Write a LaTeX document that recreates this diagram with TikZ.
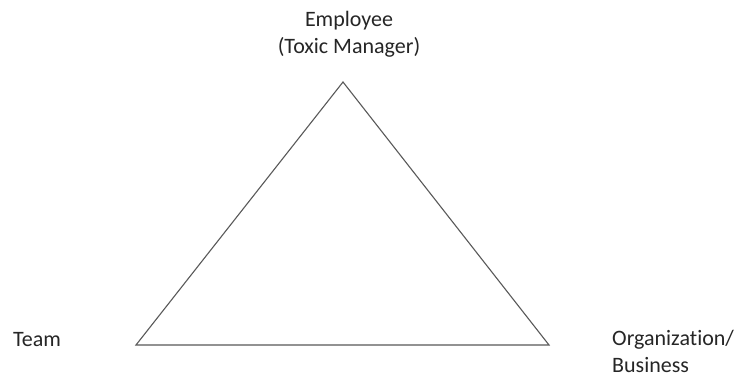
\documentclass[tikz,border=0pt]{standalone}
\usepackage{fontspec}
\setmainfont[Ligatures=NoCommon]{Carlito}
\definecolor{txt}{HTML}{262626}
\definecolor{edge}{HTML}{595959}
\begin{document}
\begin{tikzpicture}[x=1pt,y=-1pt,
  lbl/.style={text=txt,font=\fontsize{22}{27.5}\selectfont,inner sep=0pt},
  tri/.style={draw=edge,line width=1.1pt,line join=miter}]
\useasboundingbox (0,0) rectangle (740,379);
\fill[white] (0,0) rectangle (740,379);
\coordinate (A) at (343,82);
\coordinate (B) at (136,345);
\coordinate (C) at (549,345);
\draw[tri] (A) -- (B) -- (C) -- cycle;
\node[lbl,align=center,anchor=base] (emp) at (349,54) {Employee\\(Toxic Manager)};
\node[lbl,anchor=base west] (team) at (13,347) {Team};
\node[lbl,align=left,anchor=base west] (org) at (612,373) {Organization/\\Business};
\end{tikzpicture}
\end{document}
